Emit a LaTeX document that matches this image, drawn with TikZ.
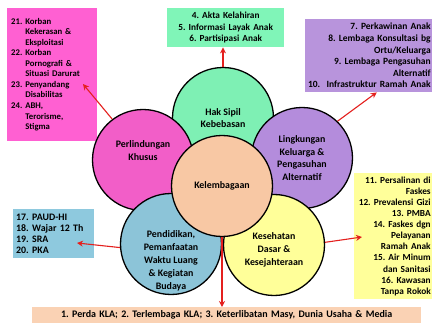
\documentclass[tikz,border=0pt]{standalone}
\usepackage{fontspec}
\setmainfont{Carlito}
\usetikzlibrary{arrows.meta,positioning}
\frenchspacing

\definecolor{pinkbox}{HTML}{FF60D2}
\definecolor{pinkc}{HTML}{F25EC8}
\definecolor{greenbox}{HTML}{80F5B8}
\definecolor{greenc}{HTML}{7EF0B4}
\definecolor{purplebox}{HTML}{B894DC}
\definecolor{purplec}{HTML}{B48CDC}
\definecolor{yellowbox}{HTML}{FFFF9A}
\definecolor{yellowc}{HTML}{FFFF99}
\definecolor{bluebox}{HTML}{8EC9DE}
\definecolor{bluec}{HTML}{8CC4D8}
\definecolor{peachc}{HTML}{F8C8A4}
\definecolor{peachbox}{HTML}{FAD2B4}
\definecolor{arrowred}{HTML}{E4201E}

\tikzset{
  petal/.style={circle, draw=black, line width=1.3pt, minimum size=101pt, inner sep=0pt,
    align=center, font=\fontsize{9.9}{12.8}\selectfont\bfseries},
  petaltext/.style={align=center, font=\fontsize{9.9}{13}\selectfont\bfseries},
  listbox/.style={anchor=north west, inner xsep=1.5pt, inner ysep=0pt,
    font=\fontsize{9.3}{11.2}\selectfont\bfseries},
  arr/.style={-{Stealth[length=6pt,width=6pt]}, draw=arrowred, line width=1.1pt}
}

\begin{document}
\begin{tikzpicture}[x=1pt,y=-1pt]
    \useasboundingbox[fill=white] (0,0) rectangle (432,324);

    % lists
    \node[listbox, fill=pinkbox, text width=82pt, minimum height=133pt, inner xsep=4pt,
          font=\fontsize{8.7}{10.55}\selectfont\bfseries] (perllist) at (7,8)
      {\begin{tabular}{@{}l@{\hspace{3pt}}l@{}}
        21. & Korban\\ & Kekerasan \&\\ & Eksploitasi\\
        22. & Korban\\ & Pornografi \&\\ & Situasi Darurat\\
        23. & Penyandang\\ & Disabilitas\\
        24. & ABH,\\ & Terorisme,\\ & Stigma
      \end{tabular}};
    \node[listbox, fill=greenbox, text width=114pt, minimum height=39pt, align=center,
          font=\fontsize{9.3}{11.5}\selectfont\bfseries] (haklist) at (167,8)
      {4. Akta Kelahiran\\ 5. Informasi Layak Anak\\ 6. Partisipasi Anak};
    \node[listbox, fill=purplebox, text width=124pt, minimum height=73pt, align=right,
          font=\fontsize{9.5}{11.6}\selectfont\bfseries] (linglist) at (305,19)
      {7. Perkawinan Anak\\ 8. Lembaga Konsultasi bg\\ Ortu/Keluarga\\
       9. Lembaga Pengasuhan\\ Alternatif\\ 10.\ \ Infrastruktur Ramah Anak};
    \node[listbox, fill=yellowbox, text width=75pt, minimum height=126pt, align=right,
          font=\fontsize{9.3}{11.1}\selectfont\bfseries] (keslist) at (354,173)
      {11. Persalinan di\\ Faskes\\ 12. Prevalensi Gizi\\ 13. PMBA\\
       14. Faskes dgn\\ Pelayanan\\ Ramah Anak\\ 15. Air Minum\\ dan Sanitasi\\
       16. Kawasan\\ Tanpa Rokok};
    \node[listbox, fill=bluebox, text width=75pt, minimum height=49pt, align=left,
          inner xsep=3pt, font=\fontsize{9.9}{11}\selectfont\bfseries] (pendlist) at (13,209)
      {17. PAUD-HI\\ 18. Wajar 12 Th\\ 19. SRA\\ 20. PKA};
    \node[listbox, fill=peachbox, text width=386pt, minimum height=16pt, align=center,
          font=\fontsize{10}{12}\selectfont\bfseries] (kellist) at (32,307)
      {1. Perda KLA; 2. Terlembaga KLA; 3. Keterlibatan Masy, Dunia Usaha \& Media};

    % flower
    \node[petal, fill=greenc] (hak) at (223,118) {Hak Sipil\\ Kebebasan};
    \node[petal, fill=pinkc] (perl) at (143,160) {Perlindungan\\ Khusus\\[6pt]};
    \node[petal, fill=purplec] (ling) at (302,158) {Lingkungan\\ Keluarga \&\\ Pengasuhan\\ Alternatif};
    \node[petal, fill=bluec] (pend) at (171,244) {};
    \node[petaltext] (pendtxt) at (171,261) {Pendidikan,\\ Pemanfaatan\\ Waktu Luang\\ \& Kegiatan\\ Budaya};
    \node[petal, fill=yellowc] (kes) at (274,245) {};
    \node[petaltext] (kestxt) at (274,250) {Kesehatan\\ Dasar \&\\ Kesejahteraan};
    \node[petal, fill=peachc] (kel) at (222,186) {Kelembagaan};

    % arrows
    \coordinate (perltip) at (83,84);
    \coordinate (kestip) at (362,237);
    \coordinate (pendtip) at (77,243);
    \draw[arr] (hak.north) -- (hak.north |- haklist.south);
    \draw[arr] (perl.127) -- (perltip);
    \draw[arr] (ling.46) -- ([xshift=8pt]linglist.south);
    \draw[arr] (kes.3) -- (kestip);
    \draw[arr] (pend.184) -- (pendtip);
    \draw[arr] (kel.south) -- (kel.south |- kellist.north);
\end{tikzpicture}
\end{document}
